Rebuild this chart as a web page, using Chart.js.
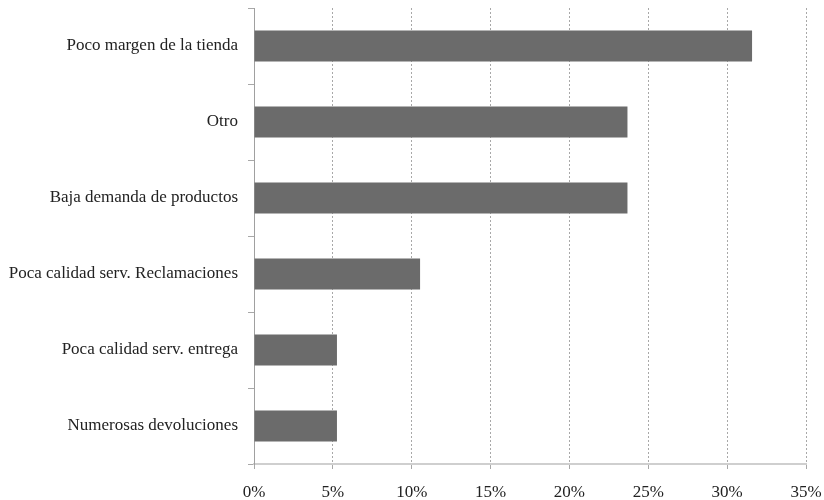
<!DOCTYPE html>
<html>
<head>
<meta charset="utf-8">
<script src="https://cdn.jsdelivr.net/npm/chart.js@4.4.0/dist/chart.umd.min.js"></script>
<style>
    body { margin: 0; background: #fff; }
    #wrap { width: 824px; height: 500px; }
</style>
</head>
<body>
<div id="wrap"><canvas id="motivos" width="824" height="500"></canvas></div>
<script>
const categories = [
    "Poco margen de la tienda",
    "Otro",
    "Baja demanda de productos",
    "Poca calidad serv. Reclamaciones",
    "Poca calidad serv. entrega",
    "Numerosas devoluciones"
];
const shares = [31.58, 23.68, 23.68, 10.53, 5.26, 5.26];
const tickValues = [0, 5, 10, 15, 20, 25, 30, 35];

const serif = "'Liberation Serif', 'DejaVu Serif', serif";

function loadMotivosChart(){
    var ctx = document.getElementById('motivos').getContext('2d');

    new Chart(ctx, {
        type: 'bar',
        data: {
            labels: categories,
            datasets: [{
                data: shares,
                backgroundColor: "#6b6b6b",
                borderWidth: 0,
                categoryPercentage: 1,
                barPercentage: 0.41
            }]
        },
        options: {
            indexAxis: 'y',
            responsive: false,
            animation: false,
            layout: { padding: { top: 8, right: 18, left: 0, bottom: 0 } },
            plugins: {
                legend: { display: false },
                tooltip: { enabled: false }
            },
            scales: {
                x: {
                    min: 0,
                    max: 35,
                    afterBuildTicks: function(scale){
                        scale.ticks = tickValues.map(v => ({ value: v }));
                    },
                    afterFit: function(scale){
                        scale.height = 36;
                        scale.paddingLeft = 0;
                        scale.paddingRight = 0;
                    },
                    ticks: {
                        color: "#222",
                        font: { family: serif, size: 17 },
                        padding: 13,
                        callback: v => v + "%"
                    },
                    grid: {
                        color: "#a8a8a8",
                        lineWidth: 1,
                        tickLength: 5,
                        tickColor: "#a8a8a8",
                        tickBorderDash: [0, 0]
                    },
                    border: { color: "#cfcfcf", width: 2, dash: [2, 2] }
                },
                y: {
                    afterFit: function(scale){
                        scale.width = 254;
                        scale.paddingTop = 0;
                        scale.paddingBottom = 0;
                    },
                    ticks: {
                        color: "#222",
                        font: { family: serif, size: 17 },
                        padding: 10
                    },
                    grid: {
                        offset: true,
                        drawOnChartArea: false,
                        tickLength: 6,
                        tickColor: "#a8a8a8"
                    },
                    border: { color: "#a0a0a0", width: 1 }
                }
            }
        }
    });
}

loadMotivosChart();
</script>
</body>
</html>
